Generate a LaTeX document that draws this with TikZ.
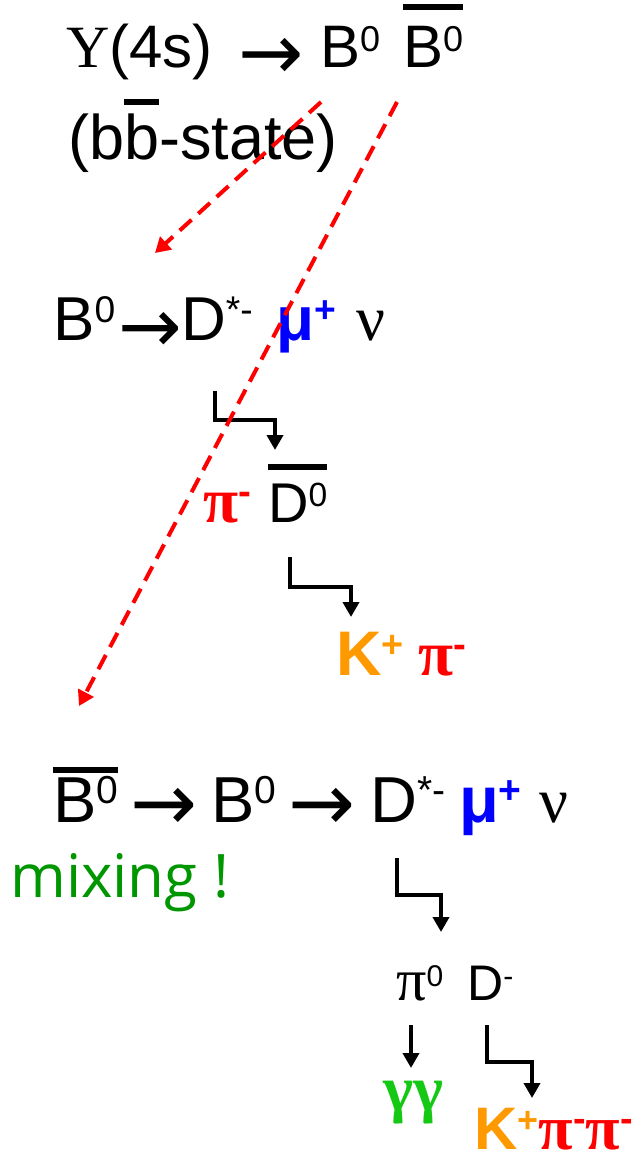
\documentclass[tikz,border=0pt]{standalone}
\usepackage{fontspec}
\setmainfont{Liberation Sans}
\newfontfamily\tms{Liberation Serif}
\newfontfamily\cmc{Open Sans}
\newfontfamily\dvs{DejaVu Sans}
\usetikzlibrary{arrows.meta}
\definecolor{kor}{RGB}{255,153,0}
\definecolor{mixg}{RGB}{0,150,0}
\definecolor{ggr}{RGB}{20,200,20}
\newdimen\supsz
\makeatletter
\newcommand\sps[1]{{\supsz=\f@size pt\relax\raisebox{0.28\supsz}{\fontsize{0.6\supsz}{0.6\supsz}\selectfont #1}}}
\makeatother
\newcommand\ovl[2][8pt]{\vbox{\hrule height 6pt\kern#1\hbox{#2}}}
\newcommand\arr[1]{\raisebox{#1}{\dvs →}}
\begin{document}
\begin{tikzpicture}[x=1pt,y=-1pt,
  txt/.style={inner sep=0pt, anchor=base west},
  fs/.style={font=\fontsize{#1}{#1}\selectfont},
  elbow/.style={line width=4pt, -{Triangle[width=16pt,length=15pt]}},
  mixarr/.style={red, line width=4pt, dash pattern=on 16pt off 9pt, -{Triangle[width=17pt,length=15pt]}}]
\useasboundingbox (0,0) rectangle (644,1155);
% line 1
\node[txt,fs=60] (ups) at (66,68) {{\tms Υ}(4s)};
\node[txt,fs=78] (a1) at (238,68) {\arr{-12pt}};
\node[txt,fs=60] (b1) at (320,68) {B\sps{0}};
\node[txt,fs=60] (bb1) at (403,68) {\ovl[16pt]{B\sps{0}}};
\node[txt,fs=63] (bbst) at (68,160) {(b\ovl[9pt]{b}-state)};
% line 3
\node[txt,fs=62] (b2) at (53,340) {B\sps{0}};
\node[txt,fs=76] (a2) at (118,340) {\arr{-12pt}};
\node[txt,fs=62] (d2) at (181,340) {D\sps{*-}};
\node[txt,fs=62,blue] (mu2) at (276,340) {\bfseries μ\sps{+}};
\node[txt,fs=64] (nu2) at (356,340) {\tms ν};
% line 4
\node[txt,fs=64,red] (pi4) at (203,522) {{\tms\bfseries π}\sps{\bfseries -}};
\node[txt,fs=56] (d4) at (268,522) {\ovl[13pt]{D\sps{0}}};
% line 5
\node[txt,fs=63,kor] (k5) at (336,675) {\bfseries K\sps{+}};
\node[txt,fs=64,red] (pi5) at (418,675) {{\tms\bfseries π}\sps{\bfseries -}};
% line 6
\node[txt,fs=65] (bb6) at (53,822) {\ovl[4pt]{B\sps{0}}};
\node[txt,fs=80] (a6) at (130,822) {\arr{-8pt}};
\node[txt,fs=65] (b6) at (211,822) {B\sps{0}};
\node[txt,fs=80] (a6b) at (288,822) {\arr{-8pt}};
\node[txt,fs=65] (d6) at (370,822) {D\sps{*-}};
\node[txt,fs=65,blue] (mu6) at (459,822) {\bfseries μ\sps{+}};
\node[txt,fs=64] (nu6) at (539,822) {\tms ν};
\node[txt,fs=60,mixg] (mix) at (10,897) {\cmc mixing !};
% lower
\node[txt,fs=50] (pi7) at (396,1000) {{\tms\fontsize{60}{60}\selectfont π}\sps{0}};
\node[txt,fs=50] (d7) at (467,1000) {D\sps{-}};
\node[txt,fs=64,ggr] (gg8) at (383,1110) {\tms\bfseries γγ};
\node[txt,fs=60] (k9) at (474,1149) {\raisebox{0pt}[\height][0pt]{{\color{kor}\bfseries K\sps{+}}{\color{red}\fontsize{63}{63}\selectfont{\tms\bfseries π}\sps{\bfseries -}{\tms\bfseries π}\sps{\bfseries -}}}};
% elbow arrows
\coordinate (e1s) at (215,391); \coordinate (e1e) at (275,450);
\coordinate (e2s) at (290,557); \coordinate (e2e) at (351,617);
\coordinate (e3s) at (397,858); \coordinate (e3e) at (441,932);
\coordinate (e4s) at (411,1025); \coordinate (e4e) at (411,1068);
\coordinate (e5s) at (487,1025); \coordinate (e5e) at (532,1098);
\draw[elbow] (e1s) -- ++(0,29) -| (e1e);
\draw[elbow] (e2s) -- ++(0,30) -| (e2e);
\draw[elbow] (e3s) -- ++(0,37) -| (e3e);
\draw[elbow] (e4s) -- (e4e);
\draw[elbow] (e5s) -- ++(0,37) -| (e5e);
% red dashed
\coordinate (r1s) at (321,102); \coordinate (r1e) at (155,253);
\coordinate (r2s) at (397,102); \coordinate (r2e) at (79,706);
\draw[mixarr] (r1s) -- (r1e);
\draw[mixarr] (r2s) -- (r2e);
\end{tikzpicture}
\end{document}
